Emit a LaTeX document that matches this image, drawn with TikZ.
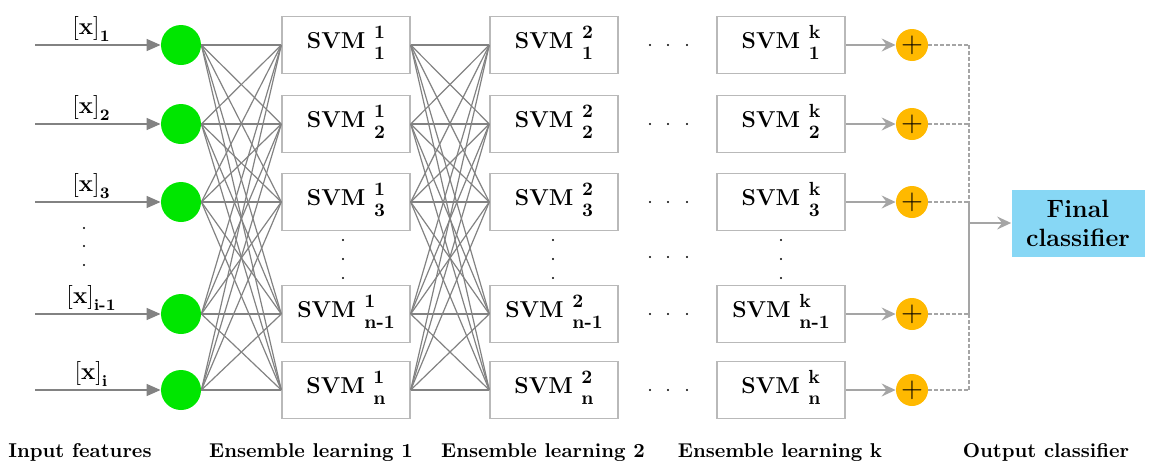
\documentclass[tikz,border=0pt]{standalone}
\usepackage{amsmath}
\usetikzlibrary{arrows.meta,calc}
\definecolor{InputClr}{RGB}{0,230,0}
\definecolor{SumClr}{RGB}{255,185,0}
\definecolor{FinalClr}{RGB}{135,215,245}
\definecolor{EdgeClr}{RGB}{130,130,130}
\definecolor{BoxClr}{RGB}{185,185,185}
\definecolor{ArrClr}{RGB}{165,165,165}
\newcommand{\svmlbl}[2]{SVM \raisebox{-5.5pt}{\fontsize{9.5}{10.5}\selectfont
  \begin{tabular}[b]{@{}l@{}}#1\\#2\end{tabular}}}

\begin{document}
\begin{tikzpicture}[x=0.5pt,y=-0.5pt,
  svmbox/.style={draw=BoxClr,line width=0.7pt,minimum width=64pt,minimum height=28.5pt,inner sep=0pt,font=\fontsize{11.5}{14}\selectfont\bfseries},
  feat/.style={circle,fill=InputClr,minimum size=20pt,inner sep=0pt},
  sumnode/.style={circle,fill=SumClr,minimum size=16pt,inner sep=0pt,font=\fontsize{15}{15}\selectfont},
  edge/.style={EdgeClr,line width=0.6pt},
  feedarrow/.style={EdgeClr,line width=0.7pt,-{Triangle[length=7pt,width=6pt]}},
  outarrow/.style={ArrClr,line width=0.8pt,-{Stealth[length=7pt,width=6.5pt,inset=2.5pt]}},
  joinline/.style={ArrClr,line width=0.6pt,dash pattern=on 2pt off 1pt},
  caption/.style={anchor=base,font=\fontsize{10}{12}\selectfont\bfseries}]
\useasboundingbox (0,0) rectangle (1152,461);

% Είσοδοι, ταξινομητές SVM και αθροιστές ανά γραμμή.
\foreach \r/\y/\s/\f in {1/45/1/1,2/124/2/2,3/202/3/3,4/314/n-1/i-1,5/390/n/i}{
  \coordinate (x\r) at (35,\y);
  \node[feat] (in\r) at (181,\y) {};
  \draw[feedarrow] (x\r) -- (in\r.west)
    node[pos=0.45,above,inner sep=1.5pt,text=black,font=\fontsize{12}{14}\selectfont]
    {$\mathbf{[x]}_{\textbf{\f}}$};
  \node[svmbox] (a\r) at (346,\y) {\svmlbl{1}{\s}};
  \node[svmbox] (b\r) at (554,\y) {\svmlbl{2}{\s}};
  \node[svmbox] (c\r) at (781,\y) {\svmlbl{k}{\s}};
  \node[sumnode] (p\r) at (912,\y) {$+$};
  \coordinate (j\r) at (969,\y);
  \draw[outarrow] (c\r.east) -- (p\r.west);
  \draw[joinline] (p\r.east) -- (j\r);
  \foreach \d in {650,668,687}
    \fill (\d,\y) circle (0.55pt);
}

% Πλήρεις συνδέσεις μεταξύ των επιπέδων.
\foreach \i in {1,...,5}
  \foreach \j in {1,...,5}{
    \draw[edge] (in\i.east) -- (a\j.west);
    \draw[edge] (a\i.east) -- (b\j.west);
  }

% Αποσιωπητικά.
\foreach \d in {228,246,265}
  \fill (84,\d) circle (0.55pt);
\foreach \cx in {343,553,781}
  \foreach \d in {240,259,278}
    \fill (\cx,\d) circle (0.55pt);
\foreach \d in {650,668,687}
  \fill (\d,257) circle (0.55pt);

% Τελικός ταξινομητής.
\node[fill=FinalClr,minimum width=66.5pt,minimum height=33.5pt,inner sep=0pt,align=center,
  font=\fontsize{12.5}{14.5}\selectfont\bfseries] (final) at (1078,223) {Final\\classifier};
\coordinate (jn) at (969,223);
\draw[joinline] (j1) -- (j3);
\draw[ArrClr,line width=0.6pt] (j3) -- (j4);
\draw[joinline] (j4) -- (j5);
\draw[outarrow] (jn) -- (final.west);

% Τίτλοι κάτω από κάθε στήλη.
\node[caption] (t0) at (80,457) {Input features};
\node[caption] (t1) at (311,457) {Ensemble learning 1};
\node[caption] (t2) at (543,457) {Ensemble learning 2};
\node[caption] (t3) at (780,457) {Ensemble learning k};
\node[caption] (t4) at (1046,457) {Output classifier};

\end{tikzpicture}
\end{document}
